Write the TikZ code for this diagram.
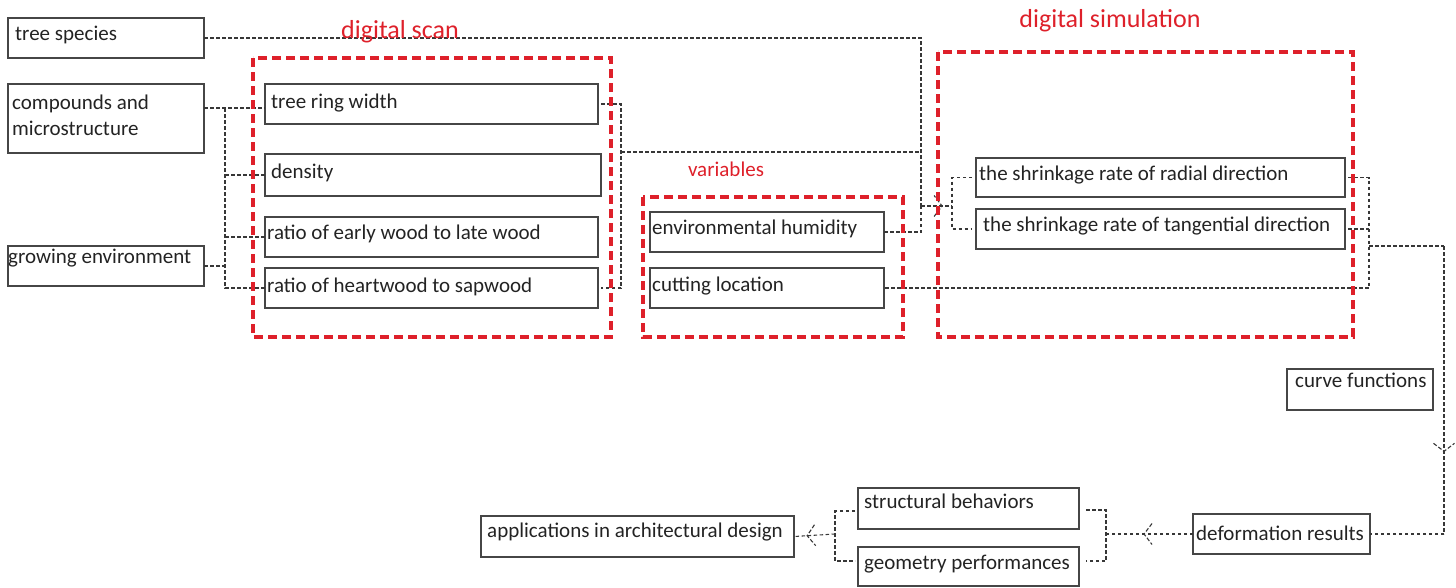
\documentclass[tikz,border=0pt]{standalone}
\usepackage{fontspec}
\setmainfont{Carlito}
\usetikzlibrary{arrows.meta,decorations.markings}
\definecolor{redc}{RGB}{222,32,42}
\definecolor{ink}{RGB}{35,35,35}
\definecolor{linec}{RGB}{55,55,55}
\definecolor{edgec}{RGB}{70,70,70}
\newcommand\mybox[5]{\node[box, minimum width=#4-#2, minimum height=#5-#3] (#1) at (#2,#3) {};}
\begin{document}
\begin{tikzpicture}[x=1pt,y=-1pt,
  box/.style={draw=edgec, line width=1.2pt, anchor=north west, inner sep=0pt, outer sep=0pt},
  txt/.style={anchor=base west, inner sep=0pt, text=ink, font=\fontsize{21}{25}\selectfont},
  conn/.style={draw=linec, line width=1.05pt, dash pattern=on 3.5pt off 2.5pt},
  grp/.style={draw=redc, line width=3.2pt, dash pattern=on 9pt off 5pt},
  grplabel/.style={anchor=base, text=redc, inner sep=0pt},
  midarrow/.style={postaction={decorate}, decoration={markings, mark=at position #1 with {\draw[draw=linec, line width=1.1pt, dash pattern=on 4pt off 2pt, line cap=butt] (-8pt,-10.5pt) -- (0pt,0pt) -- (-8pt,10.5pt);}}}
]
\useasboundingbox (0,0) rectangle (1456,587);

% boxes
\mybox{tree}{8}{18}{204}{58}
\mybox{comp}{8}{84}{204}{153}
\mybox{grow}{8}{246}{204}{286}
\mybox{ring}{265}{84}{598}{124}
\mybox{dens}{265}{154}{601}{196}
\mybox{early}{265}{217}{598}{257}
\mybox{heart}{265}{268}{598}{308}
\mybox{hum}{650}{212}{884}{252}
\mybox{cut}{650}{268}{884}{308}
\mybox{rad}{976}{158}{1345}{197}
\mybox{tan}{976}{209}{1345}{249}
\mybox{curve}{1287}{369}{1433}{410}
\mybox{def}{1193}{514}{1370}{554}
\mybox{str}{858}{488}{1079}{529}
\mybox{geo}{858}{547}{1079}{586}
\mybox{app}{481}{516}{794}{557}

% texts
\node[txt] (t-tree) at (15,40) {tree species};
\node[txt] (t-comp1) at (12,109) {compounds and};
\node[txt] (t-comp2) at (12,135) {microstructure};
\node[txt] (t-grow) at (8,263) {growing environment};
\node[txt] (t-ring) at (271,108) {tree ring width};
\node[txt] (t-dens) at (271,178) {density};
\node[txt] (t-early) at (267,239) {ratio of early wood to late wood};
\node[txt] (t-heart) at (267,292) {ratio of heartwood to sapwood};
\node[txt] (t-hum) at (652,234) {environmental humidity};
\node[txt] (t-cut) at (652,291) {cutting location};
\node[txt] (t-rad) at (979,180) {the shrinkage rate of radial direction};
\node[txt] (t-tan) at (983,231) {the shrinkage rate of tangential direction};
\node[txt] (t-curve) at (1295,387) {curve functions};
\node[txt] (t-def) at (1196,540) {deformation results};
\node[txt] (t-str) at (864,508) {structural behaviors};
\node[txt] (t-geo) at (864,569) {geometry performances};
\node[txt] (t-app) at (487,537) {applications in architectural design};

% coordinates
\coordinate (j1) at (921,206);
\coordinate (j2) at (952,206);
\coordinate (s1) at (621,152);
\coordinate (v1) at (225,108);
\coordinate (r1) at (1369,177);
\coordinate (r2) at (1369,246);
\coordinate (r3) at (1444,246);
\coordinate (b1) at (1106,534);
\coordinate (bt) at (1106,510);
\coordinate (bb) at (1106,561);
\coordinate (a1) at (835,534);
\coordinate (at) at (835,511);
\coordinate (ab) at (835,561);

% connectors
\draw[conn] (tree.east) -| (j1);
\draw[conn] (hum.east) -| (j1);
\draw[conn, midarrow=0.68] (j1) -- (j2);
\draw[conn, shorten <=4pt, shorten >=4pt] (rad.west) -| (j2) |- (tan.west);

\draw[conn, shorten <=3pt, shorten >=3pt] (ring.east) -| (s1) |- (heart.east);
\draw[conn] (s1) -- (s1 -| j1);

\draw[conn] (comp.east |- v1) -- (ring.west |- v1);
\draw[conn] (v1) |- (heart.west);
\draw[conn] (v1 |- dens.west) -- (dens.west);
\draw[conn] (v1 |- early.west) -- (early.west);
\draw[conn] (grow.east) -- (v1 |- grow.east);

\draw[conn, shorten <=3pt] (rad.east) -| (r1 |- cut.east) -- (cut.east);
\draw[conn, shorten <=3pt] (tan.east) -- (r1 |- tan.east);
\draw[conn] (r2) -- (r3);
\draw[conn, midarrow=0.713] (r3) -- (r3 |- def.east);
\draw[conn] (r3 |- def.east) -- (def.east);

\draw[conn, midarrow=0.563] (def.west) -- (b1);
\draw[conn, shorten <=7pt, shorten >=7pt] (str.east |- bt) -- (bt) -- (bb) -- (geo.east |- bb);
\draw[conn, shorten <=3pt, shorten >=3pt] (str.west |- at) -- (at) -- (ab) -- (geo.west |- ab);
\draw[conn, midarrow=0.68] (a1) -- (app.east);

% groups
\draw[grp] (253,58) rectangle (611,337);
\draw[grp] (643,197) rectangle (903,337);
\draw[grp] (938,52) rectangle (1353,337);
\node[grplabel, font=\fontsize{26}{30}\selectfont] (l-scan) at (400,38) {digital scan};
\node[grplabel, font=\fontsize{21}{25}\selectfont] (l-var) at (726,176) {variables};
\node[grplabel, font=\fontsize{26}{30}\selectfont] (l-sim) at (1110,27) {digital simulation};
\end{tikzpicture}
\end{document}
